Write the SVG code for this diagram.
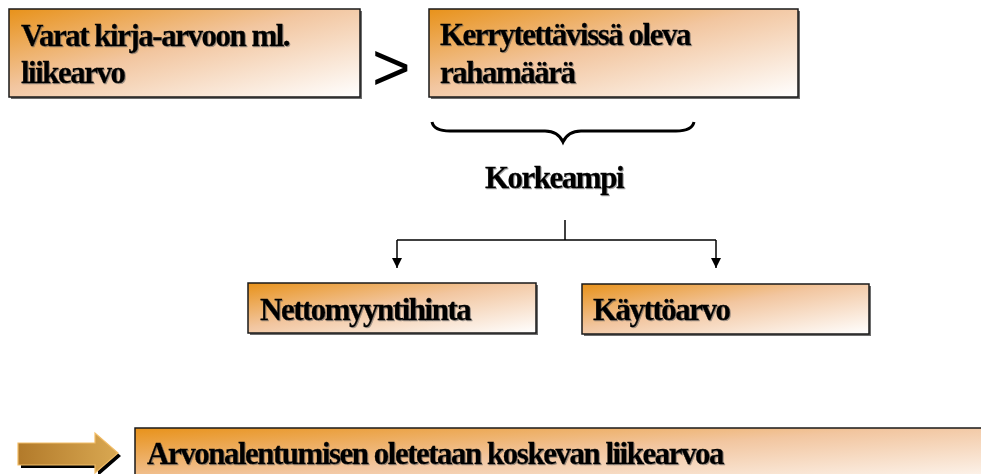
<svg xmlns="http://www.w3.org/2000/svg" width="981" height="474" viewBox="0 0 981 474">
  <defs>
    <linearGradient id="boxFill" x1="0" y1="0" x2="1" y2="1">
      <stop offset="0" stop-color="#e8921a"/>
      <stop offset="0.45" stop-color="#f2c6a0"/>
      <stop offset="1" stop-color="#ffffff"/>
    </linearGradient>
    <linearGradient id="arrowFill" x1="0" y1="0" x2="1" y2="0">
      <stop offset="0" stop-color="#b27a2a"/>
      <stop offset="1" stop-color="#d9a852"/>
    </linearGradient>
    <marker id="head" viewBox="0 0 10 10" refX="10" refY="5" markerWidth="10" markerHeight="10" markerUnits="userSpaceOnUse" orient="auto">
      <path d="M0,0 L10,5 L0,10 Z" fill="#000"/>
    </marker>
    <filter id="textShadow" x="-5%" y="-20%" width="110%" height="140%">
      <feDropShadow dx="1" dy="1" stdDeviation="0.5" flood-color="#555" flood-opacity="0.55"/>
    </filter>
  </defs>
  <style>
    .box { fill: url(#boxFill); stroke: #1a1a1a; stroke-width: 1.5; }
    .shadow { fill: #6e6e6e; }
    .label { font-family: "Liberation Serif", serif; font-weight: bold; font-size: 31px; letter-spacing: -1.5px; fill: #000; stroke: #000; stroke-width: 0.3px; filter: url(#textShadow); }
    .link { fill: none; stroke: #000; stroke-width: 1.5; }
  </style>

  <g id="assets">
    <rect class="shadow" x="11" y="11" width="351" height="88"/>
    <rect class="box" x="9" y="9" width="351" height="88"/>
    <text class="label" x="21" y="46">Varat kirja-arvoon ml.</text>
    <text class="label" x="21" y="83">liikearvo</text>
  </g>

  <g id="greater">
    <text x="372" y="90" font-family="Liberation Sans, sans-serif" font-size="66">&gt;</text>
  </g>

  <g id="recoverable">
    <rect class="shadow" x="431" y="11" width="369" height="88"/>
    <rect class="box" x="429" y="9" width="369" height="88"/>
    <text class="label" x="440" y="45">Kerrytettävissä oleva</text>
    <text class="label" x="440" y="83">rahamäärä</text>
  </g>

  <g id="brace">
    <path d="M432,122 Q434,131 450,131 L545,131 Q558,131 563,142 Q568,131 581,131 L676,131 Q692,131 694,122" fill="none" stroke="#000" stroke-width="3"/>
  </g>

  <g id="higher">
    <text class="label" x="485" y="188">Korkeampi</text>
  </g>

  <g id="connectors">
    <path class="link" d="M565,220 L565,240"/>
    <path class="link" d="M397,240 L716,240"/>
    <path class="link" d="M397,240 L397,268" marker-end="url(#head)"/>
    <path class="link" d="M716,240 L716,268" marker-end="url(#head)"/>
  </g>

  <g id="net-selling-price">
    <rect class="shadow" x="250" y="285" width="288" height="50"/>
    <rect class="box" x="248" y="283" width="288" height="50"/>
    <text class="label" x="260" y="320">Nettomyyntihinta</text>
  </g>

  <g id="value-in-use">
    <rect class="shadow" x="584" y="286" width="287" height="50"/>
    <rect class="box" x="582" y="284" width="287" height="50"/>
    <text class="label" x="593" y="320">Käyttöarvo</text>
  </g>

  <g id="pointer">
    <polygon points="21,446 98,446 98,436 121,456 98,476 98,468 21,468" fill="#000"/>
    <polygon points="18,443 95,443 95,433 118,453 95,473 95,465 18,465" fill="url(#arrowFill)" stroke="#f2bd68" stroke-width="1.2"/>
  </g>

  <g id="goodwill-note">
    <rect class="box" x="135" y="428" width="860" height="62"/>
    <text class="label" x="147" y="464">Arvonalentumisen oletetaan koskevan liikearvoa</text>
  </g>
</svg>
